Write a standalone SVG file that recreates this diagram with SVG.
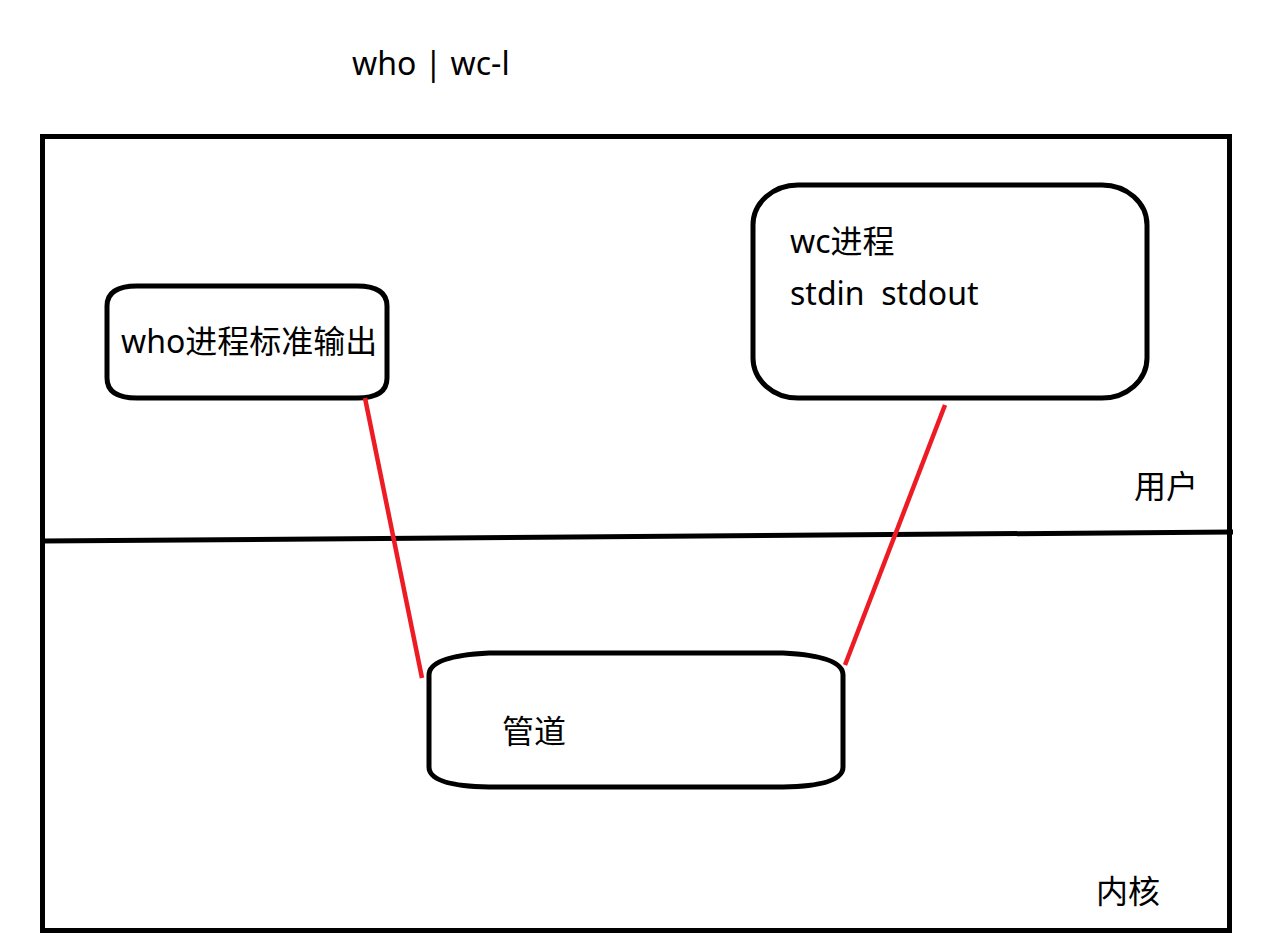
<svg xmlns="http://www.w3.org/2000/svg" width="1274" height="949" viewBox="0 0 1274 949">
<style>
.box{fill:none;stroke:#000;stroke-width:5}
.t{font-family:"Noto Sans","Noto Sans CJK SC",sans-serif;font-size:32px;fill:#000}
.red{stroke:#ed1c24;stroke-width:4.5;fill:none}
</style>
<rect x="0" y="0" width="1274" height="949" fill="#fff"/>
<g id="title"><text class="t" x="352" y="75">who | wc-l</text></g>
<g id="frame">
<rect class="box" x="42.5" y="136.5" width="1187" height="794"/>
<path class="box" d="M42 541 L1233 532"/>
</g>
<g id="who">
<path class="box" d="M137 286 L357 286 Q387 286 387 306 L387 378 Q387 398 357 398 L137 398 Q107 398 107 378 L107 306 Q107 286 137 286 Z"/>
<text class="t" x="121" y="353">who进程标准输出</text>
</g>
<g id="wc">
<rect class="box" x="753" y="185" width="394" height="213" rx="45" ry="40"/>
<text class="t" x="790" y="253">wc进程</text>
<text class="t" x="790" y="305" xml:space="preserve">stdin  stdout</text>
</g>
<g id="pipe">
<path class="box" d="M489 653 L783 653 Q843 656 843 675 L843 767 Q843 786 783 787 L489 787 Q429 786 429 767 L429 675 Q429 656 489 653 Z"/>
<text class="t" x="502" y="743">管道</text>
</g>
<g id="labels">
<text class="t" x="1134" y="498">用户</text>
<text class="t" x="1096" y="903">内核</text>
</g>
<g id="connectors">
<line class="red" x1="365" y1="398" x2="422" y2="678"/>
<line class="red" x1="945" y1="405" x2="845" y2="665"/>
</g>
</svg>
